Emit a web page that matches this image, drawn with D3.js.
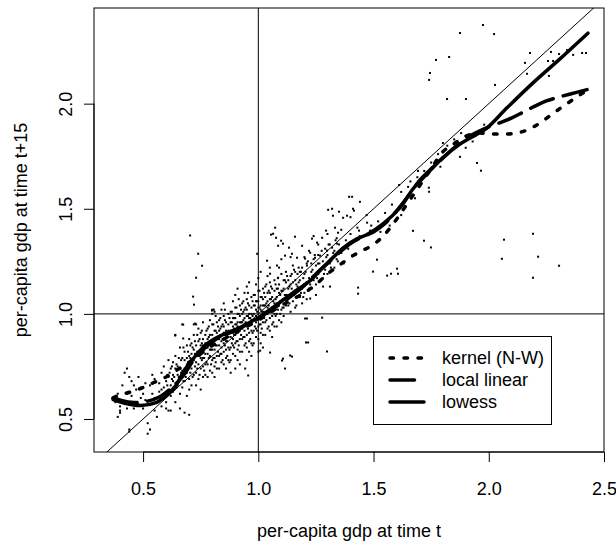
<!DOCTYPE html>
<html>
<head>
<meta charset="utf-8">
<script src="https://cdn.jsdelivr.net/npm/d3@7"></script>
<style>
  html, body { margin: 0; padding: 0; background: white; }
  svg { display: block; font-family: "Liberation Sans", Arial, sans-serif; }
</style>
</head>
<body>
<div id="chart"></div>
<script>
// axis ticks
const xTicks = [0.5, 1.0, 1.5, 2.0, 2.5]
const yTicks = [0.5, 1.0, 1.5, 2.0]

// scatter: [gdp at t, gdp at t+15]
const points = [
  [0.37,0.60],[0.38,0.58],[0.39,0.62],[0.40,0.56],[0.41,0.66],[0.40,0.53],[0.42,0.72],[0.41,0.59],[0.39,0.51],[0.40,0.54],
  [0.43,0.74],[0.44,0.70],[0.45,0.68],[0.43,0.62],[0.44,0.58],[0.46,0.55],[0.44,0.45],[0.45,0.61],[0.47,0.64],[0.46,0.66],[0.43,0.55],[0.44,0.44],
  [0.48,0.70],[0.49,0.65],[0.50,0.62],[0.48,0.57],[0.51,0.67],[0.50,0.55],[0.52,0.48],[0.53,0.45],[0.52,0.43],[0.49,0.60],[0.51,0.59],
  [0.53,0.66],[0.54,0.62],[0.55,0.69],[0.56,0.58],[0.55,0.54],[0.56,0.51],[0.54,0.71],[0.57,0.63],[0.53,0.57],[0.55,0.60],[0.57,0.67],
  [0.58,0.72],[0.59,0.65],[0.60,0.62],[0.61,0.70],[0.58,0.56],[0.60,0.58],[0.62,0.66],[0.59,0.75],[0.61,0.54],[0.62,0.74],[0.60,0.68],[0.62,0.61],[0.58,0.64],[0.61,0.78],[0.62,0.54],[0.60,0.55],
  [0.63,0.71],[0.64,0.67],[0.65,0.75],[0.66,0.69],[0.63,0.63],[0.64,0.80],[0.66,0.62],[0.67,0.73],[0.65,0.66],[0.63,0.77],[0.66,0.84],[0.67,0.65],[0.64,0.58],[0.65,0.71],[0.67,0.79],[0.66,0.55],[0.63,0.68],[0.64,0.74],[0.64,0.90],[0.67,0.95],
  [0.68,0.78],[0.69,0.72],[0.70,0.75],[0.71,0.81],[0.68,0.68],[0.69,0.85],[0.70,0.69],[0.71,0.74],[0.72,0.78],[0.68,0.74],[0.70,0.88],[0.71,0.66],[0.72,0.83],[0.69,0.79],[0.70,0.64],[0.71,0.77],[0.72,0.71],[0.68,0.82],[0.69,0.61],[0.70,0.80],[0.72,0.90],[0.71,0.86],[0.69,0.76],[0.70,0.52],[0.68,0.53],
  [0.73,0.80],[0.74,0.76],[0.75,0.83],[0.76,0.79],[0.73,0.72],[0.74,0.87],[0.75,0.74],[0.76,0.85],[0.77,0.81],[0.73,0.77],[0.74,0.82],[0.75,0.91],[0.76,0.70],[0.77,0.76],[0.73,0.85],[0.74,0.69],[0.75,0.79],[0.76,0.88],[0.77,0.86],[0.73,0.66],[0.74,0.93],[0.75,0.85],[0.76,0.75],[0.77,0.71],[0.75,0.64],[0.74,0.80],[0.76,0.96],[0.77,0.90],[0.73,0.95],[0.72,0.95],
  [0.78,0.84],[0.79,0.80],[0.80,0.87],[0.81,0.83],[0.78,0.76],[0.79,0.90],[0.80,0.78],[0.81,0.92],[0.82,0.85],[0.78,0.88],[0.79,0.73],[0.80,0.95],[0.81,0.75],[0.82,0.80],[0.78,0.81],[0.79,0.86],[0.80,0.83],[0.81,0.88],[0.82,0.91],[0.78,0.70],[0.79,0.97],[0.80,0.72],[0.81,0.79],[0.82,0.96],[0.80,0.90],[0.79,0.83],[0.81,0.70],[0.82,0.74],[0.78,0.93],[0.80,1.00],[0.80,1.02],[0.81,1.01],
  [0.83,0.88],[0.84,0.84],[0.85,0.91],[0.86,0.87],[0.83,0.80],[0.84,0.94],[0.85,0.82],[0.86,0.96],[0.87,0.89],[0.83,0.92],[0.84,0.77],[0.85,0.99],[0.86,0.79],[0.87,0.84],[0.83,0.85],[0.84,0.90],[0.85,0.86],[0.86,0.92],[0.87,0.95],[0.83,0.74],[0.84,1.02],[0.85,0.76],[0.86,0.83],[0.87,1.00],[0.85,0.94],[0.84,0.87],[0.86,0.74],[0.87,0.78],[0.83,0.97],[0.85,1.05],[0.86,0.90],[0.87,0.92],[0.84,0.81],[0.88,0.72],
  [0.88,0.92],[0.89,0.88],[0.90,0.95],[0.91,0.91],[0.88,0.84],[0.89,0.98],[0.90,0.86],[0.91,1.00],[0.92,0.93],[0.88,0.96],[0.89,0.81],[0.90,1.03],[0.91,0.83],[0.92,0.88],[0.88,0.89],[0.89,0.94],[0.90,0.90],[0.91,0.96],[0.92,0.99],[0.88,0.78],[0.89,1.06],[0.90,0.80],[0.91,0.87],[0.92,1.04],[0.90,0.98],[0.89,0.91],[0.91,0.78],[0.92,0.82],[0.88,1.01],[0.90,1.09],[0.91,0.94],[0.92,0.96],[0.89,0.85],[0.90,0.74],[0.91,1.12],[0.92,0.76],
  [0.93,0.96],[0.94,0.92],[0.95,0.99],[0.96,0.95],[0.93,0.88],[0.94,1.02],[0.95,0.90],[0.96,1.04],[0.97,0.97],[0.93,1.00],[0.94,0.85],[0.95,1.07],[0.96,0.87],[0.97,0.92],[0.93,0.93],[0.94,0.98],[0.95,0.94],[0.96,1.00],[0.97,1.03],[0.93,0.82],[0.94,1.10],[0.95,0.84],[0.96,0.91],[0.97,1.08],[0.95,1.02],[0.94,0.95],[0.96,0.82],[0.97,0.86],[0.93,1.05],[0.95,1.13],[0.96,0.98],[0.97,1.00],[0.94,0.89],[0.95,0.78],[0.96,1.15],[0.97,0.80],
  [0.98,1.00],[0.99,0.96],[1.00,1.03],[1.01,0.99],[0.98,0.92],[0.99,1.06],[1.00,0.94],[1.01,1.08],[1.02,1.01],[0.98,1.04],[0.99,0.89],[1.00,1.11],[1.01,0.91],[1.02,0.96],[0.98,0.97],[0.99,1.02],[1.00,0.98],[1.01,1.04],[1.02,1.07],[0.98,0.86],[0.99,1.14],[1.00,0.88],[1.01,0.95],[1.02,1.12],[1.00,1.06],[0.99,0.99],[1.01,0.86],[1.02,0.90],[0.98,1.09],[1.00,1.17],[1.01,1.02],[1.02,1.04],[0.99,0.93],[1.00,0.82],[1.01,1.20],[1.02,0.84],
  [1.03,1.04],[1.04,1.00],[1.05,1.07],[1.06,1.03],[1.03,0.96],[1.04,1.10],[1.05,0.98],[1.06,1.12],[1.07,1.05],[1.03,1.08],[1.04,0.93],[1.05,1.15],[1.06,0.95],[1.07,1.00],[1.03,1.01],[1.04,1.06],[1.05,1.02],[1.06,1.08],[1.07,1.11],[1.03,0.90],[1.04,1.18],[1.05,0.92],[1.06,0.99],[1.07,1.16],[1.05,1.10],[1.04,1.03],[1.06,0.89],[1.07,0.94],[1.03,1.13],[1.05,1.22],
  [1.08,1.08],[1.09,1.04],[1.10,1.11],[1.11,1.07],[1.08,1.00],[1.09,1.14],[1.10,1.02],[1.11,1.16],[1.12,1.09],[1.08,1.12],[1.09,0.97],[1.10,1.19],[1.11,0.99],[1.12,1.04],[1.08,1.05],[1.09,1.10],[1.10,1.06],[1.11,1.12],[1.12,1.15],[1.08,0.94],[1.09,1.22],[1.10,0.96],[1.11,1.03],[1.12,1.20],[1.10,1.26],
  [1.13,1.12],[1.14,1.08],[1.15,1.15],[1.16,1.11],[1.13,1.04],[1.14,1.18],[1.15,1.06],[1.16,1.20],[1.17,1.13],[1.13,1.16],[1.14,1.01],[1.15,1.23],[1.16,1.03],[1.17,1.08],[1.13,1.09],[1.14,1.14],[1.15,1.10],[1.16,1.16],[1.17,1.19],[1.14,1.27],
  [1.18,1.16],[1.19,1.12],[1.20,1.19],[1.21,1.15],[1.18,1.08],[1.19,1.22],[1.20,1.10],[1.21,1.24],[1.22,1.17],[1.18,1.20],[1.19,1.05],[1.20,1.27],[1.21,1.07],[1.22,1.12],[1.20,1.14],[1.22,1.30],
  [1.23,1.20],[1.24,1.16],[1.25,1.23],[1.26,1.19],[1.23,1.12],[1.24,1.26],[1.25,1.14],[1.26,1.28],[1.27,1.21],[1.23,1.24],[1.25,1.09],[1.26,1.33],[1.27,1.16],[1.24,1.37],
  [1.28,1.25],[1.29,1.21],[1.30,1.28],[1.31,1.24],[1.28,1.17],[1.29,1.31],[1.30,1.19],[1.31,1.33],[1.32,1.26],[1.30,1.38],
  [1.33,1.30],[1.34,1.26],[1.35,1.33],[1.36,1.29],[1.33,1.22],[1.34,1.36],[1.36,1.40],[1.37,1.24],
  [1.38,1.35],[1.39,1.31],[1.40,1.38],[1.41,1.34],[1.42,1.28],[1.43,1.41],[1.44,1.37],[1.40,1.46],
  // second pass over the dense band
  [0.605,0.66],[0.615,0.72],[0.625,0.69],[0.635,0.64],[0.645,0.76],[0.655,0.70],[0.665,0.78],[0.675,0.68],[0.685,0.74],[0.695,0.82],
  [0.605,0.71],[0.615,0.63],[0.625,0.75],[0.635,0.70],[0.645,0.65],[0.655,0.79],[0.665,0.72],[0.675,0.84],[0.685,0.70],[0.695,0.77],
  [0.705,0.79],[0.715,0.84],[0.725,0.75],[0.735,0.82],[0.745,0.88],[0.755,0.78],[0.765,0.83],[0.775,0.92],[0.785,0.79],[0.795,0.86],
  [0.705,0.72],[0.715,0.77],[0.725,0.87],[0.735,0.74],[0.745,0.80],[0.755,0.86],[0.765,0.73],[0.775,0.84],[0.785,0.89],[0.795,0.76],
  [0.705,0.85],[0.715,0.70],[0.725,0.81],[0.735,0.90],[0.745,0.71],[0.755,0.92],[0.765,0.79],[0.775,0.77],[0.785,0.94],[0.795,0.83],
  [0.805,0.87],[0.815,0.92],[0.825,0.82],[0.835,0.89],[0.845,0.95],[0.855,0.85],[0.865,0.90],[0.875,0.98],[0.885,0.86],[0.895,0.93],
  [0.805,0.79],[0.815,0.85],[0.825,0.94],[0.835,0.81],[0.845,0.88],[0.855,0.97],[0.865,0.80],[0.875,0.91],[0.885,0.96],[0.895,0.84],
  [0.805,0.95],[0.815,0.77],[0.825,0.88],[0.835,0.98],[0.845,0.78],[0.855,0.91],[0.865,0.87],[0.875,0.83],[0.885,1.01],[0.895,0.90],
  [0.815,0.99],[0.835,0.93],[0.855,1.02],[0.875,0.77],[0.895,0.98],
  [0.905,0.95],[0.915,1.00],[0.925,0.90],[0.935,0.97],[0.945,1.03],[0.955,0.93],[0.965,0.98],[0.975,1.06],[0.985,0.94],[0.995,1.01],
  [0.905,0.87],[0.915,0.93],[0.925,1.02],[0.935,0.89],[0.945,0.96],[0.955,1.05],[0.965,0.88],[0.975,0.99],[0.985,1.04],[0.995,0.92],
  [0.905,1.03],[0.915,0.85],[0.925,0.96],[0.935,1.06],[0.945,0.86],[0.955,0.99],[0.965,0.95],[0.975,0.91],[0.985,1.09],[0.995,0.98],
  [0.915,1.07],[0.935,1.01],[0.955,1.10],[0.975,0.85],[0.995,1.06],
  [1.005,1.03],[1.015,1.08],[1.025,0.98],[1.035,1.05],[1.045,1.11],[1.055,1.01],[1.065,1.06],[1.075,1.14],[1.085,1.02],[1.095,1.09],
  [1.005,0.95],[1.015,1.01],[1.025,1.10],[1.035,0.97],[1.045,1.04],[1.055,1.13],[1.065,0.96],[1.075,1.07],[1.085,1.12],[1.095,1.00],
  [1.005,1.11],[1.015,0.93],[1.025,1.04],[1.035,1.14],[1.045,0.94],[1.055,1.07],[1.065,1.03],[1.075,0.99],[1.085,1.17],[1.095,1.06],
  [1.105,1.11],[1.115,1.16],[1.125,1.06],[1.135,1.13],[1.145,1.19],[1.155,1.09],[1.165,1.14],[1.175,1.22],[1.185,1.10],[1.195,1.17],
  [1.105,1.03],[1.115,1.09],[1.125,1.18],[1.135,1.05],[1.145,1.12],[1.155,1.21],[1.165,1.04],[1.175,1.15],[1.185,1.20],[1.195,1.08],
  [1.205,1.20],[1.215,1.25],[1.225,1.14],[1.235,1.21],[1.245,1.28],[1.255,1.17],[1.265,1.24],[1.275,1.30],[1.285,1.19],[1.295,1.27],
  [1.305,1.33],[1.315,1.22],[1.325,1.29],[1.335,1.35],[1.345,1.25],
  // spread above the main cloud
  [0.704,1.373],[0.739,1.286],[0.756,1.229],[0.730,1.172],[0.717,1.082],[0.721,1.044],[0.726,0.954],[0.674,0.949],[0.639,0.897],[0.674,0.883],[0.799,1.016],[0.807,1.020],
  [0.995,1.286],[1.038,1.253],[1.081,1.230],[1.051,1.191],[1.086,1.172],[1.073,1.410],[1.064,1.381],[1.055,1.377],[1.077,1.362],[1.099,1.348],[1.107,1.334],[1.086,1.324],
  [1.133,1.315],[1.159,1.367],[1.190,1.324],[1.233,1.358],[1.255,1.339],[1.277,1.362],[1.294,1.396],[1.333,1.410],[1.346,1.386],[1.146,1.286],[1.168,1.267],[1.116,1.277],
  [1.203,1.263],[1.225,1.291],[1.246,1.267],[1.268,1.277],[1.298,1.301],[1.320,1.315],[1.342,1.334],[1.211,1.230],[1.259,1.239],
  [1.394,1.557],[1.407,1.557],[1.441,1.533],[1.303,1.495],[1.320,1.500],[1.350,1.486],[1.385,1.467],[1.368,1.457],[1.411,1.500],[1.415,1.491],[1.324,1.467],
  [1.472,1.434],[1.485,1.396],[1.437,1.396],
  // spread below the main cloud
  [0.956,0.707],[0.943,0.740],[1.116,0.740],[1.103,0.778],[1.138,0.802],[1.207,0.864],[1.211,0.978],[1.008,0.825],[1.051,0.816],[1.107,0.787],[1.146,0.797],
  [1.216,0.864],[1.298,0.821],[1.203,0.978],[1.277,0.982],[1.225,1.073],[1.281,1.130],[1.311,1.130],[1.433,1.125],[1.433,1.096],
  [1.515,1.258],[1.498,1.201],[1.602,1.215],[1.606,1.191],[1.576,1.191],[1.559,1.182],[1.671,1.395],[1.719,1.348],[1.749,1.316],
  // upper range
  [1.47,1.47],[1.49,1.42],[1.52,1.44],[1.53,1.39],[1.55,1.48],[1.57,1.42],[1.58,1.52],[1.62,1.58],[1.62,1.47],[1.66,1.63],[1.68,1.55],[1.69,1.65],
  [1.72,1.68],[1.74,1.60],[1.75,1.72],[1.78,1.76],[1.79,1.70],[1.82,1.80],[1.85,1.83],[1.88,1.86],[1.90,1.79],[1.93,1.82],[1.96,1.87],[1.98,1.90],
  [1.693,1.680],[1.611,1.613],[1.650,1.604],[1.741,1.581],[1.801,1.813],[1.875,1.747],[1.949,1.718],[1.966,1.681],
  [1.975,2.374],[1.875,2.336],[2.023,2.331],[1.771,2.208],[1.828,2.222],[1.745,2.146],[1.741,2.113],[2.027,2.089],[1.819,2.022],[1.901,2.022],
  [2.179,2.241],[2.270,2.246],[2.305,2.236],[2.340,2.255],[2.366,2.232],[2.405,2.241],[2.422,2.241],[2.157,2.194],[2.257,2.203],[2.279,2.203],[2.166,2.142],[2.261,2.132],
  [2.192,1.381],[2.066,1.353],[2.057,1.262],[2.214,1.272],[2.305,1.229],[2.192,1.172]
]

// smoothers
const kernelCurve = [
  [0.37,0.60],[0.40,0.615],[0.45,0.63],[0.50,0.65],[0.55,0.675],[0.60,0.70],[0.65,0.735],[0.70,0.77],[0.75,0.81],[0.80,0.85],
  [0.85,0.88],[0.90,0.91],[0.95,0.94],[1.00,0.97],[1.05,1.005],[1.10,1.04],[1.15,1.07],[1.20,1.10],[1.25,1.14],[1.30,1.19],
  [1.35,1.23],[1.40,1.27],[1.45,1.30],[1.50,1.33],[1.55,1.38],[1.60,1.45],[1.65,1.53],[1.70,1.61],[1.75,1.69],[1.80,1.77],
  [1.85,1.81],[1.90,1.845],[1.95,1.86],[2.00,1.857],[2.05,1.855],[2.10,1.857],[2.15,1.868],[2.20,1.893],[2.25,1.93],[2.30,1.97],
  [2.35,2.008],[2.40,2.045],[2.43,2.065]
]
const localLinearCurve = [
  [0.37,0.60],[0.42,0.585],[0.47,0.578],[0.52,0.585],[0.57,0.605],[0.62,0.645],[0.67,0.70],[0.72,0.78],[0.78,0.85],[0.84,0.895],
  [0.90,0.92],[0.95,0.95],[1.00,0.978],[1.05,1.015],[1.10,1.05],[1.15,1.09],[1.20,1.135],[1.25,1.19],[1.30,1.24],[1.35,1.29],
  [1.40,1.335],[1.45,1.365],[1.50,1.39],[1.55,1.43],[1.60,1.49],[1.65,1.56],[1.70,1.635],[1.75,1.69],[1.80,1.74],[1.85,1.79],
  [1.90,1.835],[1.95,1.865],[2.00,1.89],[2.05,1.91],[2.10,1.932],[2.15,1.96],[2.20,1.988],[2.25,2.013],[2.30,2.03],[2.35,2.045],
  [2.43,2.068]
]
const lowessCurve = [
  [0.37,0.592],[0.42,0.575],[0.49,0.564],[0.556,0.578],[0.60,0.61],[0.643,0.66],[0.678,0.73],[0.72,0.79],[0.778,0.858],[0.838,0.897],
  [0.90,0.925],[0.95,0.952],[1.00,0.982],[1.05,1.02],[1.10,1.06],[1.15,1.10],[1.225,1.158],[1.275,1.215],[1.324,1.268],[1.37,1.315],
  [1.42,1.352],[1.472,1.378],[1.541,1.428],[1.615,1.505],[1.671,1.594],[1.732,1.666],[1.80,1.742],[1.875,1.808],[1.949,1.855],[1.992,1.884],
  [2.079,1.98],[2.192,2.099],[2.309,2.213],[2.43,2.335]
]

const legendLabels = ["kernel (N-W)", "local linear", "lowess"]
const lineDashes = ["3.5,10.5", "24.5,10.5", null]

const width = 616
const height = 544
const margin = { top: 8, right: 12, bottom: 92, left: 94 }
const lwd = 3.5

const svg = d3.select("#chart").append("svg")
  .attr("width", width)
  .attr("height", height)

const x = d3.scaleLinear().domain([0.287, 2.5]).range([margin.left, width - margin.right])
const y = d3.scaleLinear().domain([0.343, 2.455]).range([height - margin.bottom, margin.top])

const plotW = width - margin.right - margin.left
const plotH = height - margin.bottom - margin.top

svg.append("clipPath").attr("id", "plot-clip")
  .append("rect")
  .attr("x", margin.left).attr("y", margin.top)
  .attr("width", plotW).attr("height", plotH)

const plot = svg.append("g").attr("clip-path", "url(#plot-clip)")

// reference lines: y = x, x = 1, y = 1
plot.append("line")
  .attr("x1", x(0.2)).attr("y1", y(0.2))
  .attr("x2", x(2.6)).attr("y2", y(2.6))
  .attr("stroke", "black").attr("stroke-width", 1)
plot.append("line")
  .attr("x1", x(1)).attr("x2", x(1))
  .attr("y1", margin.top).attr("y2", margin.top + plotH)
  .attr("stroke", "black").attr("stroke-width", 1)
plot.append("line")
  .attr("x1", margin.left).attr("x2", margin.left + plotW)
  .attr("y1", y(1)).attr("y2", y(1))
  .attr("stroke", "black").attr("stroke-width", 1)

plot.append("g").selectAll("rect")
  .data(points)
  .join("rect")
  .attr("x", d => x(d[0]) - 1)
  .attr("y", d => y(d[1]) - 1)
  .attr("width", 2)
  .attr("height", 2)
  .attr("fill", "black")

const line = d3.line()
  .x(d => x(d[0]))
  .y(d => y(d[1]))
  .curve(d3.curveCatmullRom)

const curves = [kernelCurve, localLinearCurve, lowessCurve]
curves.forEach((c, i) => {
  plot.append("path")
    .attr("d", line(c))
    .attr("fill", "none")
    .attr("stroke", "black")
    .attr("stroke-width", lwd)
    .attr("stroke-linecap", "round")
    .attr("stroke-linejoin", "round")
    .attr("stroke-dasharray", lineDashes[i])
})

// box
svg.append("rect")
  .attr("x", margin.left).attr("y", margin.top)
  .attr("width", plotW).attr("height", plotH)
  .attr("fill", "none").attr("stroke", "black").attr("stroke-width", 1)

// axes
const xAxis = svg.append("g")
  .attr("transform", `translate(0,${height - margin.bottom})`)
  .call(d3.axisBottom(x).tickValues(xTicks).tickFormat(d3.format(".1f")).tickSize(10).tickSizeOuter(0))
xAxis.select(".domain").remove()
xAxis.append("line")
  .attr("x1", x(xTicks[0])).attr("x2", x(xTicks[xTicks.length - 1]))
  .attr("stroke", "black")
xAxis.selectAll("text")
  .attr("y", 43).attr("dy", 0)
  .attr("fill", "black")
  .style("font-size", "18px")
  .style("font-family", "'Liberation Sans', Arial, sans-serif")

const yAxis = svg.append("g")
  .attr("transform", `translate(${margin.left},0)`)
  .call(d3.axisLeft(y).tickValues(yTicks).tickFormat(d3.format(".1f")).tickSize(10).tickSizeOuter(0))
yAxis.select(".domain").remove()
yAxis.append("line")
  .attr("y1", y(yTicks[0])).attr("y2", y(yTicks[yTicks.length - 1]))
  .attr("stroke", "black")
yAxis.selectAll("text")
  .attr("transform", "rotate(-90)")
  .attr("x", 0).attr("y", -22).attr("dy", 0)
  .attr("text-anchor", "middle")
  .attr("fill", "black")
  .style("font-size", "18px")
  .style("font-family", "'Liberation Sans', Arial, sans-serif")

svg.selectAll(".tick line").attr("stroke", "black")

// axis titles
svg.append("text")
  .attr("x", margin.left + plotW / 2)
  .attr("y", 537)
  .attr("text-anchor", "middle")
  .style("font-size", "18px")
  .text("per-capita gdp at time t")

svg.append("text")
  .attr("transform", `translate(27,${margin.top + plotH / 2}) rotate(-90)`)
  .attr("text-anchor", "middle")
  .style("font-size", "18px")
  .text("per-capita gdp at time t+15")

// legend
const legend = svg.append("g").attr("class", "legend")
legend.append("rect")
  .attr("x", 373.5).attr("y", 336.5)
  .attr("width", 178).attr("height", 88)
  .attr("fill", "white").attr("stroke", "black").attr("stroke-width", 1)

legendLabels.forEach((label, i) => {
  const ly = 358 + i * 22
  legend.append("line")
    .attr("x1", 390).attr("x2", 424)
    .attr("y1", ly).attr("y2", ly)
    .attr("stroke", "black")
    .attr("stroke-width", lwd)
    .attr("stroke-linecap", "round")
    .attr("stroke-dasharray", lineDashes[i])
  legend.append("text")
    .attr("x", 442)
    .attr("y", ly + 6)
    .style("font-size", "18px")
    .text(label)
})
</script>
</body>
</html>
